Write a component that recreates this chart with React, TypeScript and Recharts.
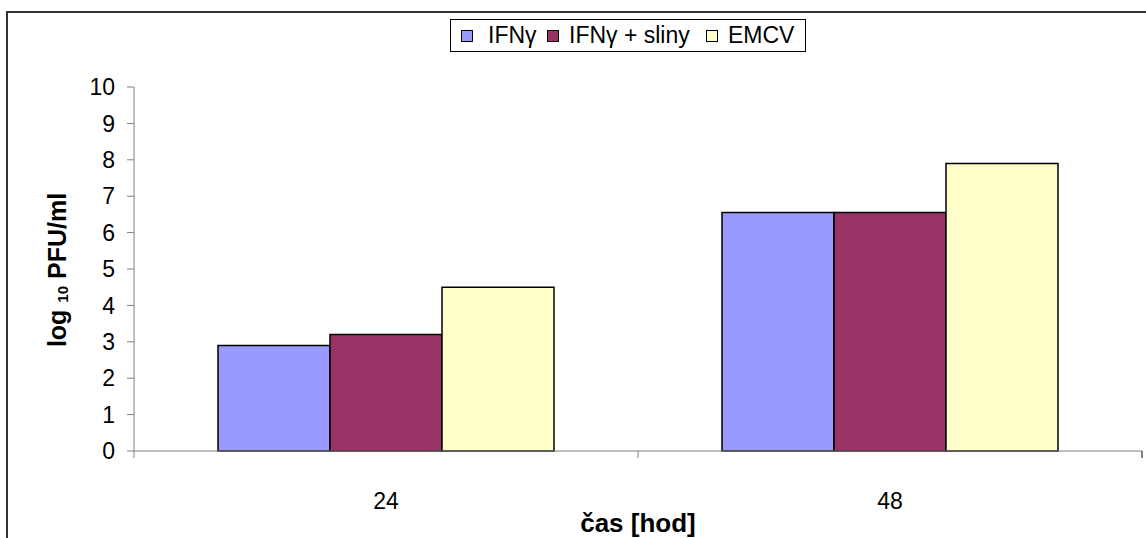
import React from 'react'
import { BarChart, Bar, XAxis, YAxis } from 'recharts'

// data
const categories = ['24', '48']
const ifnValues = [2.9, 6.55]
const ifnSlinyValues = [3.2, 6.55]
const emcvValues = [4.5, 7.9]
const yTicks = [0, 1, 2, 3, 4, 5, 6, 7, 8, 9, 10]

const seriesNames = ['IFNγ', 'IFNγ + sliny', 'EMCV']
const seriesColors = ['#9999ff', '#993366', '#ffffcc']

const W = 1146
const H = 538
const M = { top: 87, right: 4, bottom: 0, left: 0 }
const Y_AXIS_W = 134
const X_AXIS_H = 87
const PLOT_W = W - M.left - M.right - Y_AXIS_W
const AXIS_Y = H - X_AXIS_H
const FONT = '"Liberation Sans", Arial, sans-serif'

const chartData = categories.map((c, i) => ({
  cas: c,
  ifn: ifnValues[i],
  sliny: ifnSlinyValues[i],
  emcv: emcvValues[i]
}))

// category ticks sit between the groups, labels in the middle
function XTick(props: any) {
  const { x, payload, index } = props
  const band = PLOT_W / categories.length
  return (
    <g>
      <line x1={x - band / 2} x2={x - band / 2} y1={AXIS_Y} y2={AXIS_Y + 7} stroke="#808080" />
      {index === categories.length - 1 && (
        <line x1={x + band / 2} x2={x + band / 2} y1={AXIS_Y} y2={AXIS_Y + 7} stroke="#000" />
      )}
      <text x={x} y={AXIS_Y + 58} textAnchor="middle" fontSize={23} fill="#000" fontFamily={FONT}>
        {payload.value}
      </text>
    </g>
  )
}

function YLabel() {
  return (
    <text
      transform="translate(66,270) rotate(-90)"
      textAnchor="middle"
      fontSize={25}
      fontWeight="bold"
      fill="#000"
      fontFamily={FONT}
    >
      log <tspan fontSize={15} dy={2}>10</tspan><tspan dy={-2}> PFU/ml</tspan>
    </text>
  )
}

function XLabel() {
  return (
    <text x={M.left + Y_AXIS_W + PLOT_W / 2} y={532} textAnchor="middle" fontSize={26} fontWeight="bold" fill="#000" fontFamily={FONT}>
      čas [hod]
    </text>
  )
}

// legend item offsets inside the box
const legendSquareX = [10, 96, 255]
const legendTextX = [37, 118, 277]

function LegendBox() {
  return (
    <div style={{
      position: 'absolute',
      left: 450,
      top: 19,
      boxSizing: 'border-box',
      width: 356,
      height: 33,
      border: '1px solid #000',
      background: '#fff',
      fontFamily: FONT,
      fontSize: 23,
      color: '#000',
      whiteSpace: 'nowrap'
    }}>
      {seriesNames.map((name, i) => (
        <React.Fragment key={name}>
          <span style={{
            position: 'absolute',
            left: legendSquareX[i],
            top: 10,
            boxSizing: 'border-box',
            width: 12,
            height: 12,
            background: seriesColors[i],
            border: '1px solid #000'
          }} />
          <span style={{ position: 'absolute', left: legendTextX[i], top: 2, lineHeight: '26px' }}>{name}</span>
        </React.Fragment>
      ))}
    </div>
  )
}

export default function App() {
  return (
    <div style={{ position: 'absolute', left: 0, top: 0, width: W, height: H, overflow: 'hidden', background: '#fff' }}>
      <div style={{
        position: 'absolute',
        left: 6,
        top: 11,
        width: W + 50,
        height: H + 50,
        border: '2px solid #333'
      }} />
      <div style={{ position: 'absolute', left: 0, top: 0 }}>
        <BarChart
          width={W}
          height={H}
          data={chartData}
          margin={M}
          barCategoryGap={84}
          barGap={0}
        >
          <XAxis
            dataKey="cas"
            height={X_AXIS_H}
            stroke="#808080"
            tickLine={false}
            tick={<XTick />}
            interval={0}
            label={<XLabel />}
          />
          <YAxis
            width={Y_AXIS_W}
            domain={[0, 10]}
            ticks={yTicks}
            interval={0}
            stroke="#808080"
            tickSize={7}
            tickMargin={12}
            tick={{ fontSize: 23, fill: '#000', fontFamily: FONT }}
            label={<YLabel />}
          />
          <Bar dataKey="ifn" name={seriesNames[0]} fill={seriesColors[0]} stroke="#000" strokeWidth={1.5} isAnimationActive={false} />
          <Bar dataKey="sliny" name={seriesNames[1]} fill={seriesColors[1]} stroke="#000" strokeWidth={1.5} isAnimationActive={false} />
          <Bar dataKey="emcv" name={seriesNames[2]} fill={seriesColors[2]} stroke="#000" strokeWidth={1.5} isAnimationActive={false} />
        </BarChart>
      </div>
      <LegendBox />
    </div>
  )
}
